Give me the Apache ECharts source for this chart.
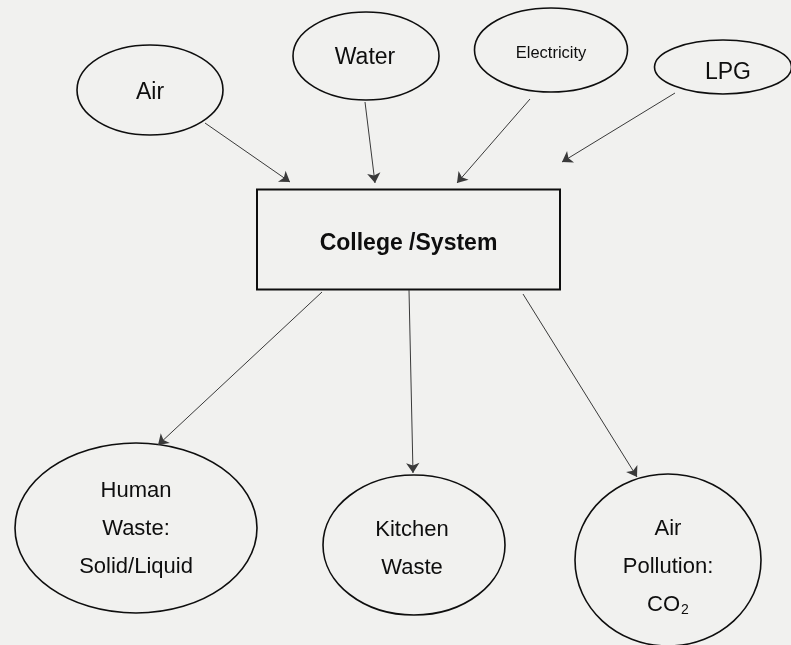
<!DOCTYPE html>
<html>
<head>
<meta charset="utf-8">
<script src="https://cdn.jsdelivr.net/npm/echarts@6/dist/echarts.min.js"></script>
<style>
html,body{margin:0;padding:0;background:#f1f1ef;}
#chart{width:791px;height:645px;}
</style>
</head>
<body>
<div id="chart"></div>
<script>
// ---- diagram content ----
const nodeNames = ['Air', 'Water', 'Electricity', 'LPG', 'College /System', 'Human Waste', 'Kitchen Waste', 'Air Pollution'];
const nodeTexts = [
  '{t|Air}',
  '{t|Water}',
  '{s|Electricity}',
  '{t|LPG}',
  '{b|College /System}',
  '{m|Human}\n{m|Waste:}\n{m|Solid/Liquid}',
  '{m|Kitchen}\n{m|Waste}',
  '{m|Air}\n{m|Pollution:}\n{m|CO}{sub|2}'
];
// flows: [from, to]
const flows = [
  ['Air', 'College /System'],
  ['Water', 'College /System'],
  ['Electricity', 'College /System'],
  ['LPG', 'College /System'],
  ['College /System', 'Human Waste'],
  ['College /System', 'Kitchen Waste'],
  ['College /System', 'Air Pollution']
];

// ---- layout (page pixel units) ----
const nodeCenters = [[150, 90], [366, 56], [551, 50], [723, 67], [408.5, 239.5], [136, 528], [414, 545], [668, 560]];
const nodeSizes = [[146, 90], [146, 88], [153, 84], [137, 54], [303, 100], [242, 170], [182, 140], [186, 172]];
const nodeShapes = ['ellipse', 'ellipse', 'ellipse', 'ellipse', 'rect', 'ellipse', 'ellipse', 'ellipse'];
const labelOffsets = [[0, 3], [-1, 2], [0, 3], [5, 6], [0, 4], [0, 1], [-2, 4], [0, 7]];
const arrowStarts = [[205, 123], [365, 102], [530, 99], [675, 93], [322, 292], [409, 290], [523, 294]];
const arrowEnds = [[290, 182], [375, 183], [457, 183], [562, 162], [158, 445], [413, 473], [637, 477]];

const FONT = '"Liberation Sans", Arial, sans-serif';
const INK = '#0e0e0e';
const richStyles = {
  t: { fontSize: 23, fontFamily: FONT, fill: INK },
  s: { fontSize: 16.5, fontFamily: FONT, fill: INK },
  b: { fontSize: 23, fontWeight: 'bold', fontFamily: FONT, fill: INK },
  m: { fontSize: 22, lineHeight: 38, fontFamily: FONT, fill: INK },
  sub: { fontSize: 14, lineHeight: 38, fontFamily: FONT, fill: INK, padding: [10, 0, 0, 1] }
};

const nodeData = nodeNames.map((n, i) => ({
  name: n,
  value: [nodeCenters[i][0], nodeCenters[i][1], nodeSizes[i][0], nodeSizes[i][1], i]
}));

const arrowData = flows.map((f, i) => ({
  name: f[0] + ' → ' + f[1],
  coords: [arrowStarts[i], arrowEnds[i]]
}));

function renderNode(params, api) {
  const i = api.value(4);
  const c = api.coord([api.value(0), api.value(1)]);
  const s = api.size([api.value(2), api.value(3)]);
  const shape = nodeShapes[i] === 'rect'
    ? { type: 'rect', shape: { x: c[0] - s[0] / 2, y: c[1] - s[1] / 2, width: s[0], height: s[1] },
        style: { fill: 'none', stroke: INK, lineWidth: 2 } }
    : { type: 'ellipse', shape: { cx: c[0], cy: c[1], rx: s[0] / 2, ry: s[1] / 2 },
        style: { fill: 'none', stroke: INK, lineWidth: 1.6 } };
  return {
    type: 'group',
    children: [
      shape,
      {
        type: 'text',
        x: c[0] + labelOffsets[i][0],
        y: c[1] + labelOffsets[i][1],
        style: {
          text: nodeTexts[i],
          rich: richStyles,
          fill: INK,
          font: '22px ' + FONT,
          align: 'center',
          verticalAlign: 'middle'
        }
      }
    ]
  };
}

const chart = echarts.init(document.getElementById('chart'), null, { renderer: 'canvas' });
chart.setOption({
  backgroundColor: '#f1f1ef',
  animation: false,
  grid: { left: 0, right: 0, top: 0, bottom: 0 },
  xAxis: { type: 'value', min: 0, max: 791, show: false },
  yAxis: { type: 'value', min: 0, max: 645, inverse: true, show: false },
  series: [
    {
      type: 'lines',
      coordinateSystem: 'cartesian2d',
      symbol: ['none', 'arrow'],
      symbolSize: [9, 10],
      lineStyle: { color: '#3a3a3a', width: 1, opacity: 1, curveness: 0 },
      data: arrowData,
      z: 3
    },
    {
      type: 'custom',
      coordinateSystem: 'cartesian2d',
      renderItem: renderNode,
      data: nodeData,
      silent: true,
      z: 2
    }
  ]
});
</script>
</body>
</html>
